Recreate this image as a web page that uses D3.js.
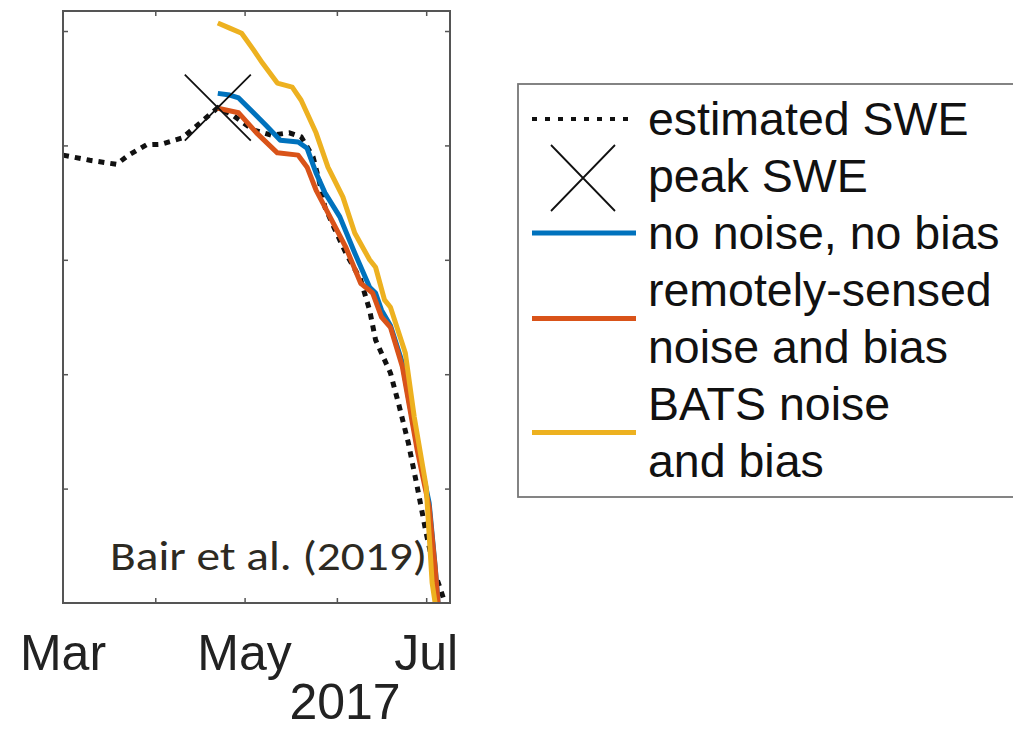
<!DOCTYPE html>
<html>
<head>
<meta charset="utf-8">
<script src="https://cdn.jsdelivr.net/npm/d3@7"></script>
<style>
 body { margin: 0; background: #fff; }
 text { font-family: "Liberation Sans", Arial, sans-serif; }
</style>
</head>
<body>
<div class="featured"></div>
<script>
// ---- data ----
var estimated = [["2017-03-01",783],["2017-03-10",774],["2017-03-19",767],["2017-03-23",783],
  ["2017-03-29",801],["2017-04-03",802],["2017-04-10",813],["2017-04-16",839],["2017-04-22",866],
  ["2017-04-27",853],["2017-05-04",827],["2017-05-10",818],["2017-05-16",822],["2017-05-20",815],
  ["2017-05-24",780],["2017-05-26",739],["2017-05-28",692],["2017-05-31",657],["2017-06-04",612],
  ["2017-06-09",565],["2017-06-12",512],["2017-06-14",460],["2017-06-19",402],["2017-06-22",343],
  ["2017-06-25",280],["2017-06-28",203],["2017-07-01",122],["2017-07-04",52],["2017-07-07",5]];

var noNoise = [["2017-04-22",891],["2017-04-26",888],["2017-04-29",883],["2017-05-04",857],
  ["2017-05-08",836],["2017-05-13",809],["2017-05-19",806],["2017-05-22",795],["2017-05-25",752],
  ["2017-05-28",717],["2017-06-02",675],["2017-06-07",612],["2017-06-12",552],["2017-06-14",542],
  ["2017-06-16",512],["2017-06-19",485],["2017-06-23",420],["2017-06-25",360],["2017-06-28",275],
  ["2017-07-02",175],["2017-07-04",65],["2017-07-05",0]];

var remote = [["2017-04-22",865],["2017-04-29",857],["2017-05-05",822],["2017-05-12",787],
  ["2017-05-19",783],["2017-05-22",762],["2017-05-25",722],["2017-05-29",682],["2017-06-04",622],
  ["2017-06-09",559],["2017-06-13",542],["2017-06-16",500],["2017-06-19",482],["2017-06-23",413],
  ["2017-06-25",355],["2017-06-28",267],["2017-07-02",168],["2017-07-04",63],["2017-07-05",0]];

var bats = [["2017-04-22",1014],["2017-04-26",1005],["2017-04-30",996],["2017-05-04",967],
  ["2017-05-07",944],["2017-05-12",909],["2017-05-17",902],["2017-05-20",879],["2017-05-25",822],
  ["2017-05-29",762],["2017-06-03",710],["2017-06-07",647],["2017-06-12",600],["2017-06-14",587],
  ["2017-06-17",530],["2017-06-19",517],["2017-06-24",437],["2017-06-27",325],["2017-07-01",203],
  ["2017-07-03",35],["2017-07-04",0]];

var peak = ["2017-04-22",866];

var xTickDates = ["2017-04-01","2017-05-01","2017-06-01","2017-07-01"];
var xLabelDates = ["2017-03-01","2017-05-01","2017-07-01"];
var yTicks = [200,400,600,800,1000];

var legendItems = [
  {lines:["estimated SWE"], kind:"dot"},
  {lines:["peak SWE"], kind:"x"},
  {lines:["no noise, no bias"], kind:"line", color:"#0072BD"},
  {lines:["remotely-sensed","noise and bias"], kind:"line", color:"#D95319"},
  {lines:["BATS noise","and bias"], kind:"line", color:"#EDB120"}
];

// ---- chart ----
var parse = d3.timeParse("%Y-%m-%d");
var svg = d3.select(".featured").append("svg")
     .attr("width",1013)
     .attr("height",740);

var L = 63, R = 450, T = 11, B = 603;
var x = d3.scaleTime().domain([parse("2017-03-01"), parse("2017-07-09")]).range([L, R]);
var y = d3.scaleLinear().domain([0, 1035]).range([B, T]);

var line = d3.line()
      .x(function(d){ return x(parse(d[0])); })
      .y(function(d){ return y(d[1]); });

var plot = svg.append("g");
plot.append("path").attr("d", line(estimated))
    .attr("fill","none").attr("stroke","#111").attr("stroke-width",5)
    .attr("stroke-dasharray","6,6");

[[noNoise,"#0072BD"],[remote,"#D95319"],[bats,"#EDB120"]].forEach(function(s){
  plot.append("path").attr("d", line(s[0]))
    .attr("fill","none").attr("stroke",s[1]).attr("stroke-width",5)
    .attr("stroke-linejoin","round");
});

var px = x(parse(peak[0])), py = y(peak[1]);
plot.append("path")
    .attr("d","M"+(px-33)+","+(py-33)+"L"+(px+33)+","+(py+33)+"M"+(px+33)+","+(py-33)+"L"+(px-33)+","+(py+33))
    .attr("stroke","#111").attr("stroke-width",1.8).attr("fill","none");

// axes box with inward ticks on all four sides
var axisColor = "#555";
var gb = svg.append("g").attr("transform","translate(0,"+B+")")
   .call(d3.axisBottom(x).tickValues(xTickDates.map(parse)).tickSize(-5).tickFormat(""));
var gt = svg.append("g").attr("transform","translate(0,"+T+")")
   .call(d3.axisTop(x).tickValues(xTickDates.map(parse)).tickSize(-5).tickFormat(""));
var gl = svg.append("g").attr("transform","translate("+L+",0)")
   .call(d3.axisLeft(y).tickValues(yTicks).tickSize(-5).tickFormat(""));
var gr = svg.append("g").attr("transform","translate("+R+",0)")
   .call(d3.axisRight(y).tickValues(yTicks).tickSize(-5).tickFormat(""));
[gb,gt,gl,gr].forEach(function(g){
  g.select(".domain").remove();
  g.selectAll("line").attr("stroke",axisColor).attr("stroke-width",1.5);
});
svg.append("rect").attr("x",L).attr("y",T).attr("width",R-L).attr("height",B-T)
   .attr("fill","none").attr("stroke",axisColor).attr("stroke-width",2);

svg.selectAll(".xlab").data(xLabelDates).enter().append("text")
   .attr("x",function(d){ return x(parse(d)); })
   .attr("y",670)
   .attr("text-anchor","middle")
   .attr("font-size",50)
   .attr("fill","#222")
   .text(function(d){ return d3.timeFormat("%b")(parse(d)); });
svg.append("text").attr("x",345).attr("y",719).attr("text-anchor","middle")
   .attr("font-size",50).attr("fill","#222").text("2017");

svg.append("text").attr("x",110).attr("y",570)
   .attr("font-family","Carlito, 'Open Sans', sans-serif")
   .style("font-family","Carlito, 'Open Sans', sans-serif")
   .attr("font-size",41).attr("fill","#2d2a22")
   .attr("textLength",317).attr("lengthAdjust","spacingAndGlyphs")
   .text("Bair et al. (2019)");

// legend
var leg = svg.append("g");
leg.append("rect").attr("x",518).attr("y",84).attr("width",520).attr("height",413)
   .attr("fill","#fff").attr("stroke","#777").attr("stroke-width",1.8);
var lineH = 57, base0 = 135, row = 0;
legendItems.forEach(function(it){
  var firstBase = base0 + row*lineH;
  var mid = firstBase - 16 + (it.lines.length-1)*lineH/2;
  it.lines.forEach(function(t,i){
    leg.append("text").attr("x",648).attr("y",firstBase + i*lineH)
       .attr("font-size",46.5).attr("fill","#111").text(t);
  });
  if (it.kind==="dot") {
    leg.append("line").attr("x1",532).attr("x2",636).attr("y1",mid).attr("y2",mid)
       .attr("stroke","#111").attr("stroke-width",4).attr("stroke-dasharray","5,8");
  } else if (it.kind==="x") {
    var cx = 583, cy = mid + 2;
    leg.append("path")
       .attr("d","M"+(cx-32)+","+(cy-33)+"L"+(cx+32)+","+(cy+33)+"M"+(cx+32)+","+(cy-33)+"L"+(cx-32)+","+(cy+33))
       .attr("stroke","#111").attr("stroke-width",1.8);
  } else {
    leg.append("line").attr("x1",532).attr("x2",636).attr("y1",mid).attr("y2",mid)
       .attr("stroke",it.color).attr("stroke-width",5);
  }
  row += it.lines.length;
});
</script>
</body>
</html>
